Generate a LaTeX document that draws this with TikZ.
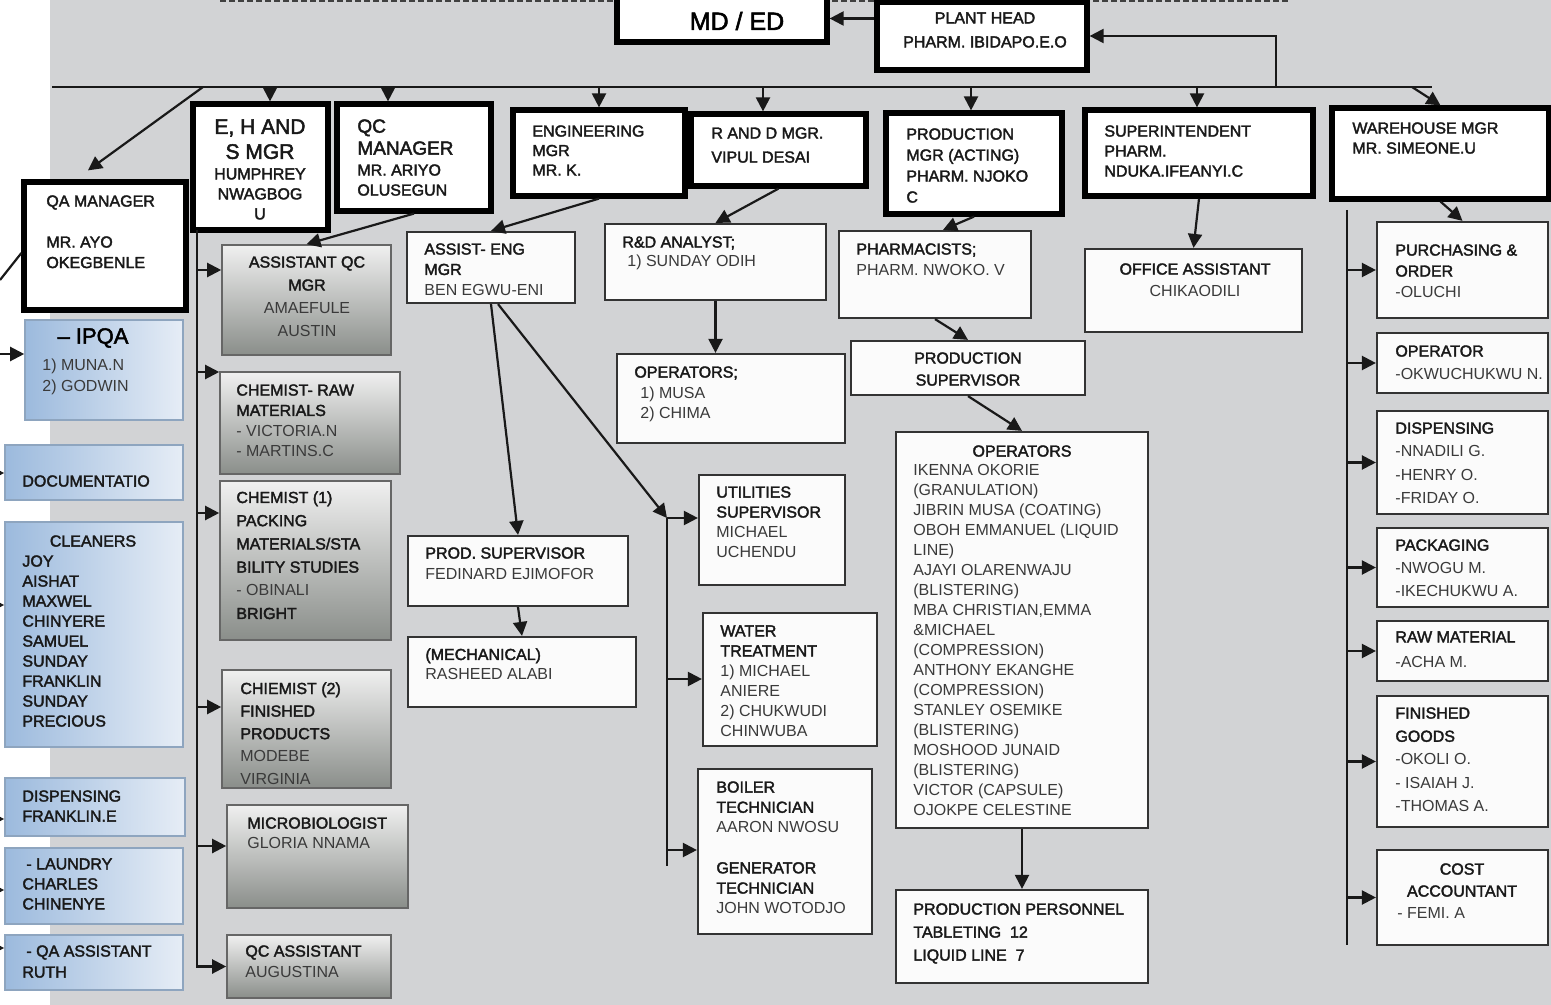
\documentclass[tikz,border=0pt]{standalone}
\usepackage{fontspec}
\setmainfont{Liberation Sans}
\newfontfamily\tfont{Liberation Sans}[FakeBold=2.2]
\usetikzlibrary{arrows.meta,fit,calc}
\definecolor{bgc}{HTML}{D2D3D5}
\definecolor{nmc}{HTML}{3A3A3A}
\definecolor{blL}{HTML}{9CBADD}
\definecolor{blR}{HTML}{E6EDF6}
\definecolor{blD}{HTML}{8EA5BF}
\definecolor{grT}{HTML}{F0F0F0}
\definecolor{grB}{HTML}{8A8E8A}
\newcommand\nm[1]{{\normalfont\color{nmc}#1}}
\newcommand\fsz[1]{\tfont\fontsize{8}{#1}\selectfont}
\newcommand\nsz[1]{\normalfont\fontsize{8}{#1}\selectfont}
\newcommand\BX[6]{\node[#2, fit={(#3,#4) (#5,#6)}] (#1) {};}
\tikzset{
 tbox/.style={draw=black, line width=2.6pt, fill=white, inner sep=0pt},
 wbox/.style={draw=black!80, line width=1.1pt, fill=white!97!gray, inner sep=0pt},
 bbox/.style={draw=blD, line width=0.8pt, left color=blL, right color=blR, inner sep=0pt},
 gbox/.style={draw=gray!80!black, line width=0.8pt, top color=grT, bottom color=grB, inner sep=0pt},
 T/.style={inner sep=0pt, align=left, anchor=north west, text=black!90, font=\fsz{10}},
 TC/.style={T, align=center, anchor=north},
 conn/.style={draw=black!90, line width=1.1pt},
 arr/.style={conn, -{Triangle[length=7pt,width=7pt]}},
}
\begin{document}
\begin{tikzpicture}[x=0.5pt,y=-0.5pt]
\useasboundingbox (0,0) rectangle (1551,1005);
\fill[white] (0,0) rectangle (1551,1005);
\fill[bgc] (50,0) rectangle (1551,1005);
\draw[black!75, line width=1pt, dash pattern=on 3pt off 1.5pt] (220,1) -- (1288,1);

% ---------- top managers
\BX{md}{tbox}{617}{-5}{827}{42}
\BX{ph}{tbox}{877}{2}{1087}{70}
\BX{qa}{tbox}{24}{182}{186}{310}
\BX{ehs}{tbox}{193}{104}{328}{230}
\BX{qc}{tbox}{337}{104}{491}{211}
\BX{eng}{tbox}{513}{110}{685}{196}
\BX{rd}{tbox}{691}{114}{866}{186}
\BX{prod}{tbox}{886}{113}{1062}{214}
\BX{sup}{tbox}{1085}{110}{1313}{196}
\BX{wh}{tbox}{1332}{108}{1549}{199}

% ---------- blue boxes
\BX{ipqa}{bbox}{25}{320}{183}{420}
\BX{doc}{bbox}{5}{445}{183}{500}
\BX{cln}{bbox}{5}{522}{183}{747}
\BX{disp}{bbox}{5}{778}{185}{836}
\BX{laun}{bbox}{5}{848}{183}{924}
\BX{qaa}{bbox}{5}{935}{183}{990}

% ---------- grey boxes
\BX{aqc}{gbox}{222}{245}{391}{355}
\BX{craw}{gbox}{220}{372}{400}{474}
\BX{cone}{gbox}{220}{481}{391}{640}
\BX{ctwo}{gbox}{222}{670}{391}{788}
\BX{micro}{gbox}{227}{805}{408}{908}
\BX{qcas}{gbox}{227}{935}{391}{998}

% ---------- white boxes
\BX{aeng}{wbox}{407}{232}{575}{303}
\BX{psup}{wbox}{408}{536}{628}{606}
\BX{mech}{wbox}{408}{637}{636}{707}
\BX{util}{wbox}{699}{475}{845}{585}
\BX{water}{wbox}{703}{613}{877}{746}
\BX{boil}{wbox}{698}{769}{872}{934}
\BX{rda}{wbox}{605}{224}{826}{300}
\BX{ops}{wbox}{617}{354}{845}{443}
\BX{pharm}{wbox}{839}{231}{1031}{318}
\BX{prsup}{wbox}{851}{341}{1085}{395}
\BX{opb}{wbox}{896}{432}{1148}{828}
\BX{pers}{wbox}{896}{890}{1148}{983}
\BX{off}{wbox}{1085}{249}{1302}{332}
\BX{pur}{wbox}{1377}{222}{1548}{318}
\BX{wop}{wbox}{1377}{333}{1548}{393}
\BX{wdis}{wbox}{1377}{411}{1548}{514}
\BX{pack}{wbox}{1377}{528}{1548}{607}
\BX{raw}{wbox}{1377}{621}{1548}{681}
\BX{fin}{wbox}{1377}{696}{1548}{827}
\BX{cost}{wbox}{1377}{850}{1548}{945}

% ---------- bus and connectors
\coordinate (bL) at (52,87);
\coordinate (bE) at (1432,87);
\coordinate (bR) at (1276,87);
\draw[conn, line width=1.3pt] (bL) -- (bE);
\draw[arr] (bR) |- (ph.east);
\draw[arr] (ph.west |- md.east) -- (md.east);
\coordinate (b1) at (203,87);
\coordinate (b2) at (270,87);
\coordinate (b3) at (388,87);
\coordinate (b4) at (599,87);
\coordinate (b5) at (763,87);
\coordinate (b6) at (971,87);
\coordinate (b7) at (1197,87);
\coordinate (b8) at (1412,87);
\draw[arr] (b1) -- ($(qa.north)+(-17,-9)$);
\draw[arr] (b2) -- (b2 |- ehs.north);
\draw[arr] (b3) -- (b3 |- qc.north);
\draw[arr] (b4) -- (b4 |- eng.north);
\draw[arr] (b5) -- (b5 |- rd.north);
\draw[arr] (b6) -- (b6 |- prod.north);
\draw[arr] (b7) -- (b7 |- sup.north);
\draw[arr] (b8) -- (wh.north);

\draw[arr] (qc.south) -- (aqc.north);
\draw[arr] (eng.south) -- (aeng.north);
\draw[arr] (rd.south) -- (rda.north);
\draw[arr] (rda.south) -- (rda.south |- ops.north);
\draw[arr] (aeng.south) -- (psup.north);
\draw[arr] (psup.south) -- (mech.north);
\draw[arr] (prod.south) -- ($(pharm.north)+(8,0)$);
\draw[arr] (pharm.south) -- (prsup.north);
\draw[arr] (prsup.south) -- (opb.north);
\draw[arr] (opb.south) -- (pers.north);
\draw[arr] (sup.south) -- (off.north);
\draw[arr] (wh.south) -- (pur.north);

% engineering utilities line
\coordinate (eT) at (667,518);
\coordinate (eB) at (667,866);
\coordinate (e2) at (667,679);
\coordinate (e3) at (667,850);
\draw[arr] ($(aeng.south)+(7,0)$) -- (eT);
\draw[conn] (eT) -- (eB);
\draw[arr] (eT) -- (eT -| util.west);
\draw[arr] (e2) -- (e2 -| water.west);
\draw[arr] (e3) -- (e3 -| boil.west);

% QC line
\coordinate (qT) at (197,230);
\coordinate (q1) at (197,270);
\coordinate (q2) at (197,372);
\coordinate (q3) at (197,513);
\coordinate (q4) at (197,707);
\coordinate (q5) at (197,846);
\draw[arr] (qT) |- (qcas.west);
\draw[arr] (q1) -- (q1 -| aqc.west);
\draw[arr] (q2) -- (q2 -| craw.west);
\draw[arr] (q3) -- (q3 -| cone.west);
\draw[arr] (q4) -- (q4 -| ctwo.west);
\draw[arr] (q5) -- (q5 -| micro.west);

% warehouse line
\coordinate (wT) at (1347,210);
\coordinate (wB) at (1347,945);
\draw[conn] (wT) -- (wB);
\foreach \b in {pur,wop,wdis,pack,raw,fin,cost}
  \draw[arr] (\b.west -| wT) -- (\b.west);

% left edge connectors
\coordinate (l0) at (0,280);
\coordinate (l1) at (0,354);
\coordinate (l2) at (-14,473);
\coordinate (l3) at (-14,605);
\coordinate (l4) at (-14,819);
\coordinate (l5) at (-14,890);
\coordinate (l6) at (-14,948);
\draw[conn] (l0) -- ($(qa.west)+(0,7)$);
\draw[arr] (l1) -- (l1 -| ipqa.west);
\draw[arr] (l2) -- (l2 -| doc.west);
\draw[arr] (l3) -- (l3 -| cln.west);
\draw[arr] (l4) -- (l4 -| disp.west);
\draw[arr] (l5) -- (l5 -| laun.west);
\draw[arr] (l6) -- (l6 -| qaa.west);

% ---------- texts: managers
\node[inner sep=0pt, font=\tfont\fontsize{12.5}{14}\selectfont] (mdt) at (737,21) {MD / ED};
\node[TC, font=\fsz{12}] (pht) at (985,12) {PLANT HEAD\\PHARM. IBIDAPO.E.O};
\node[T, font=\fsz{10.25}] (qat) at (46,195) {QA MANAGER\\[10.25pt]MR. AYO\\OKEGBENLE};
\node[TC, font=\tfont\fontsize{10.5}{12.5}\selectfont] (ehst) at (260,119) {E, H AND\\S MGR};
\node[TC, font=\fsz{10}] (ehsn) at (260,168) {HUMPHREY\\NWAGBOG\\U};
\node[T, font=\tfont\fontsize{9.5}{11}\selectfont] (qct) at (357,119) {QC\\MANAGER};
\node[T, font=\fsz{10}] (qcn) at (357,164) {MR. ARIYO\\OLUSEGUN};
\node[T, font=\fsz{9.75}] (engt) at (532,125) {ENGINEERING\\MGR\\MR. K.};
\node[T, font=\fsz{12}] (rdt) at (711,127) {R AND D MGR.\\VIPUL DESAI};
\node[T, font=\fsz{10.5}] (prodt) at (906,128) {PRODUCTION\\MGR (ACTING)\\PHARM. NJOKO\\C};
\node[T, font=\fsz{10}] (supt) at (1104,125) {SUPERINTENDENT\\PHARM.\\NDUKA.IFEANYI.C};
\node[T, font=\fsz{10}] (wht) at (1352,122) {WAREHOUSE MGR\\MR. SIMEONE.U};

% ---------- texts: blue
\node[inner sep=0pt, font=\tfont\fontsize{11}{13}\selectfont] (ipqat) at (93,338) {– IPQA};
\node[T, font=\fsz{10.5}] (ipqan) at (42,359) {\nm{1) MUNA.N}\\\nm{2) GODWIN}};
\node[T] (doct) at (22,475) {DOCUMENTATIO};
\node[TC] (clnt) at (93,535) {CLEANERS};
\node[T, font=\fsz{10}] (clnn) at (22,555) {JOY\\AISHAT\\MAXWEL\\CHINYERE\\SAMUEL\\SUNDAY\\FRANKLIN\\SUNDAY\\PRECIOUS};
\node[T, font=\fsz{10}] (dispt) at (22,790) {DISPENSING\\FRANKLIN.E};
\node[T, font=\fsz{10}] (lount) at (22,858) {\hspace{2pt}- LAUNDRY\\CHARLES\\CHINENYE};
\node[T, font=\fsz{10.5}] (qaat) at (22,945) {\hspace{2pt}- QA ASSISTANT\\RUTH};

% ---------- texts: grey
\node[TC, font=\fsz{11.5}] (aqct) at (307,256) {ASSISTANT QC\\MGR\\\nm{AMAEFULE}\\\nm{AUSTIN}};
\node[T, font=\fsz{10.2}] (crawt) at (236,384) {CHEMIST- RAW\\MATERIALS\\\nm{- VICTORIA.N}\\\nm{- MARTINS.C}};
\node[T, font=\fsz{11.6}] (conet) at (236,491) {CHEMIST (1)\\PACKING\\MATERIALS/STA\\BILITY STUDIES\\\nm{- OBINALI}\\BRIGHT};
\node[T, font=\fsz{11.3}] (ctwot) at (240,682) {CHIEMIST (2)\\FINISHED\\PRODUCTS\\\nm{MODEBE}\\\nm{VIRGINIA}};
\node[T, font=\fsz{10}] (microt) at (247,817) {MICROBIOLOGIST\\\nm{GLORIA NNAMA}};
\node[T, font=\fsz{10.5}] (qcast) at (245,945) {QC ASSISTANT\\\nm{AUGUSTINA}};

% ---------- texts: engineering / R&D
\node[T, font=\fsz{10.2}] (aengt) at (424,243) {ASSIST- ENG\\MGR\\\nm{BEN EGWU-ENI}};
\node[T, font=\fsz{10.5}] (psupt) at (425,547) {PROD. SUPERVISOR\\\nm{FEDINARD EJIMOFOR}};
\node[T, font=\fsz{10}] (mecht) at (425,648) {(MECHANICAL)\\\nm{RASHEED ALABI}};
\node[T, font=\fsz{10}] (utilt) at (716,486) {UTILITIES\\SUPERVISOR\\\nm{MICHAEL}\\\nm{UCHENDU}};
\node[T, font=\fsz{10}] (watert) at (720,625) {WATER\\TREATMENT\\\nm{1) MICHAEL}\\\nm{ANIERE}\\\nm{2) CHUKWUDI}\\\nm{CHINWUBA}};
\node[T, font=\fsz{10.1}] (boilt) at (716,781) {BOILER\\TECHNICIAN\\\nm{AARON NWOSU}\\[10.1pt]GENERATOR\\TECHNICIAN\\\nm{JOHN WOTODJO}};
\node[T, font=\fsz{9.5}] (rdat) at (622,236) {R\&D ANALYST;\\\nm{\hspace{2.5pt}1) SUNDAY ODIH}};
\node[T, font=\fsz{10.25}] (opst) at (634,366) {OPERATORS;\\\nm{\hspace{3pt}1) MUSA}\\\nm{\hspace{3pt}2) CHIMA}};

% ---------- texts: production
\node[T, font=\fsz{10.5}] (pharmt) at (856,243) {PHARMACISTS;\\\nm{PHARM. NWOKO. V}};
\node[TC, font=\fsz{11}] (prsupt) at (968,352) {PRODUCTION\\SUPERVISOR};
\node[TC] (opbt) at (1022,445) {OPERATORS};
\node[T, font=\nsz{10}, text=nmc] (opbn) at (913,464) {IKENNA OKORIE\\(GRANULATION)\\JIBRIN MUSA (COATING)\\OBOH EMMANUEL (LIQUID\\LINE)\\AJAYI OLARENWAJU\\(BLISTERING)\\MBA CHRISTIAN,EMMA\\\&MICHAEL\\(COMPRESSION)\\ANTHONY EKANGHE\\(COMPRESSION)\\STANLEY OSEMIKE\\(BLISTERING)\\MOSHOOD JUNAID\\(BLISTERING)\\VICTOR (CAPSULE)\\OJOKPE CELESTINE};
\node[T, font=\fsz{11.5}] (perst) at (913,903) {PRODUCTION PERSONNEL\\TABLETING\ \ 12\\LIQUID LINE\ \ 7};
\node[TC, font=\fsz{11}] (offt) at (1195,263) {OFFICE ASSISTANT\\\nm{CHIKAODILI}};

% ---------- texts: warehouse
\node[T, font=\fsz{10.5}] (purt) at (1395,244) {PURCHASING \&\\ORDER\\\nm{-OLUCHI}};
\node[T, font=\fsz{11.5}] (wopt) at (1395,345) {OPERATOR\\\nm{-OKWUCHUKWU N.}};
\node[T, font=\fsz{11.7}] (wdist) at (1395,422) {DISPENSING\\\nm{-NNADILI G.}\\\nm{-HENRY O.}\\\nm{-FRIDAY O.}};
\node[T, font=\fsz{11.5}] (packt) at (1395,539) {PACKAGING\\\nm{-NWOGU M.}\\\nm{-IKECHUKWU A.}};
\node[T, font=\fsz{12.5}] (rawt) at (1395,631) {RAW MATERIAL\\\nm{-ACHA M.}};
\node[T, font=\fsz{11.6}] (fint) at (1395,707) {FINISHED\\GOODS\\\nm{-OKOLI O.}\\\nm{- ISAIAH J.}\\\nm{-THOMAS A.}};
\node[TC, font=\fsz{11}] (costt) at (1462,863) {COST\\ACCOUNTANT};
\node[T] (costn) at (1397,907) {\nm{- FEMI. A}};
\end{tikzpicture}
\end{document}
